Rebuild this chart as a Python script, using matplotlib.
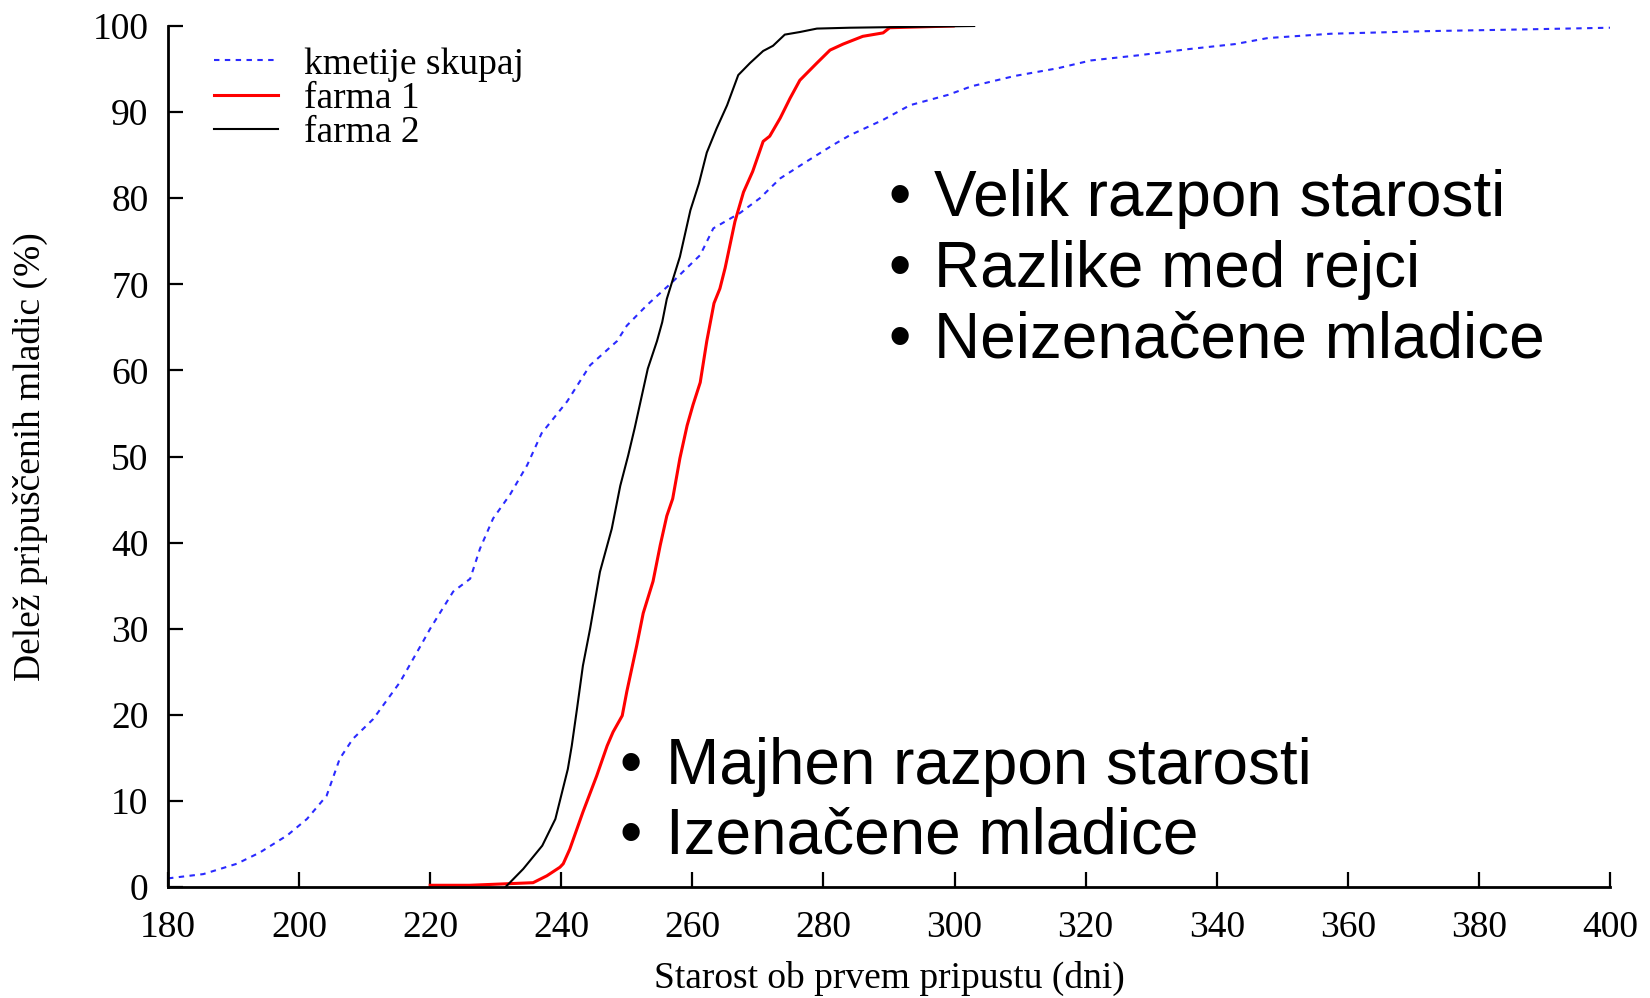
import matplotlib
matplotlib.use("Agg")
import matplotlib.pyplot as plt

# ---- data ----
kmetije_x = [180, 185.4, 190.5, 194, 198.2, 201.2, 204.2, 206.2, 208.2, 211.3,
             215.4, 218.9, 220, 223.5, 226.1, 227.6, 229.6, 232.2, 234.8, 237,
             240.9, 244.4, 248.5, 250, 253.1, 257, 261.2, 263.2, 267.3, 270.3,
             273.4, 277.5, 281.5, 284, 289.1, 293.2, 299, 302.6, 309.2, 315.8,
             320.8, 328.1, 335.5, 342.8, 347.8, 357.4, 371.9, 386.6, 400]
kmetije_y = [1.0, 1.5, 2.7, 4.0, 6.0, 7.9, 10.6, 14.9, 17.2, 19.5,
             23.8, 28.5, 30, 34.3, 35.8, 39.3, 42.8, 45.6, 49, 52.7,
             56.4, 60.6, 63.4, 65.2, 67.6, 70.3, 73.4, 76.5, 78.3, 80,
             82.3, 84.3, 86.2, 87.3, 89.1, 90.8, 92, 93, 94.2, 95.1,
             96, 96.6, 97.3, 97.9, 98.6, 99.1, 99.4, 99.6, 99.8]

farma1_x = [220, 226, 235.7, 237.8, 239.8, 240.3, 241.3, 243.3, 245.4, 247,
            247.9, 249.3, 250, 251.5, 252.5, 254, 255.1, 256.1, 257, 258.1,
            259.2, 260.1, 261.2, 262.2, 263.3, 264.2, 265, 266.5, 267.8, 269.2,
            270.8, 271.8, 273.4, 274.9, 276.4, 279, 281, 283, 286, 289.1,
            290.1, 299.8]
farma1_y = [0.2, 0.2, 0.5, 1.3, 2.3, 2.7, 4.4, 8.7, 12.9, 16.4,
            18, 19.9, 22.7, 28, 31.8, 35.5, 39.7, 43.1, 45.1, 49.8,
            53.6, 56, 58.6, 63.4, 67.8, 69.5, 71.9, 77.3, 80.7, 83.1,
            86.6, 87.2, 89.3, 91.6, 93.7, 95.7, 97.2, 97.9, 98.8, 99.2,
            99.8, 100]

farma2_x = [231.5, 234.2, 237.1, 239.1, 241.0, 241.6, 242.4, 243.3, 244.4, 245.9,
            247.7, 249, 250.2, 251.2, 252.3, 253.2, 254.6, 255.4, 256.1, 258.1,
            259.7, 261, 262.2, 263.7, 265.3, 267, 268.8, 270.8, 272.3, 274.1,
            276.4, 279, 284, 303]
farma2_y = [0, 2.1, 4.8, 7.9, 13.7, 16.4, 20.7, 25.7, 30, 36.6,
            41.6, 46.6, 50.1, 53.3, 57.1, 60.2, 63.4, 65.6, 68.3, 73.2,
            78.6, 81.7, 85.3, 88.1, 90.8, 94.3, 95.7, 97.1, 97.7, 99,
            99.3, 99.7, 99.8, 100]

x_ticks = list(range(180, 401, 20))
y_ticks = list(range(0, 101, 10))

labels = ["kmetije skupaj", "farma 1", "farma 2"]
notes_top = ["Velik razpon starosti", "Razlike med rejci", "Neizenačene mladice"]
notes_bottom = ["Majhen razpon starosti", "Izenačene mladice"]

SERIF = ["Liberation Serif", "DejaVu Serif"]
SANS = ["Liberation Sans", "DejaVu Sans"]
FS = 27

W, H = 1650, 998
fig = plt.figure(figsize=(W / 100, H / 100), dpi=100)
ax = fig.add_axes([168 / W, 1 - 887 / H, (1610 - 168) / W, (887 - 26) / H])

ax.plot(kmetije_x, kmetije_y, color="#2a2aff", linewidth=1.5,
        dashes=(2.6, 2.6), label=labels[0])
ax.plot(farma1_x, farma1_y, color="#ff0000", linewidth=2.2, label=labels[1])
ax.plot(farma2_x, farma2_y, color="black", linewidth=1.5, label=labels[2])

ax.set_xlim(180, 400)
ax.set_ylim(0, 100)
ax.set_xticks(x_ticks)
ax.set_yticks(y_ticks)
ax.spines["top"].set_visible(False)
ax.spines["right"].set_visible(False)
for s in ("left", "bottom"):
    ax.spines[s].set_linewidth(2.0)
ax.tick_params(direction="in", length=11, width=1.6, labelsize=FS)
ax.tick_params(axis="x", pad=17)
ax.tick_params(axis="y", pad=14)
for lab in ax.get_xticklabels() + ax.get_yticklabels():
    lab.set_family(SERIF)

# x label sits at the very bottom edge, as in the reference
fig.text(889 / W, 2 / H, "Starost ob prvem pripustu (dni)",
         ha="center", va="bottom", fontsize=FS, family=SERIF)
fig.text(30 / W, 1 - 457 / H, "Delež pripuščenih mladic (%)",
         ha="center", va="center", rotation=90, fontsize=FS, family=SERIF)

leg = ax.legend(loc="upper left", bbox_to_anchor=(214 / W, 1 - 47 / H),
                bbox_transform=fig.transFigure, frameon=False,
                prop={"family": SERIF, "size": FS}, handlelength=1.7,
                handletextpad=0.7, labelspacing=0.0, borderpad=0,
                borderaxespad=0)

# ---- bullet notes ----
for i, t in enumerate(notes_top):
    yb = 1 - (216 + i * 71) / H
    fig.text(900 / W, yb, "•", ha="center", va="baseline", fontsize=46, family=SANS)
    fig.text(934 / W, yb, t, ha="left", va="baseline", fontsize=46, family=SANS)
for i, t in enumerate(notes_bottom):
    yb = 1 - (784 + i * 70) / H
    fig.text(631 / W, yb, "•", ha="center", va="baseline", fontsize=46, family=SANS)
    fig.text(666 / W, yb, t, ha="left", va="baseline", fontsize=46, family=SANS)

fig.savefig("out.png", dpi=100)
